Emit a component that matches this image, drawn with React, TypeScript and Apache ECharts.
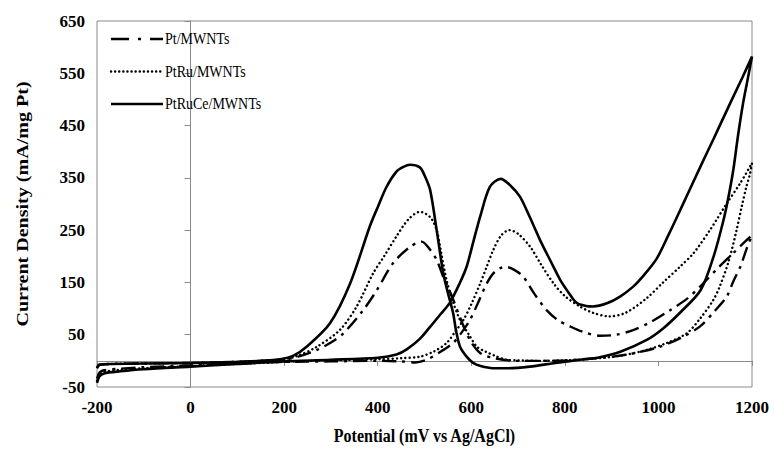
import React, { useEffect, useRef } from "react";
import * as echarts from "echarts";

const seriesNames = ["Pt/MWNTs", "PtRu/MWNTs", "PtRuCe/MWNTs"];
const xTicks = [-200, 1200, 200];
const yTicks = [-50, 650, 100];
const xTitle = "Potential (mV vs Ag/AgCl)";
const yTitle = "Current Density (mA/mg Pt)";

// Pt/MWNTs: forward scan then reverse scan, [potential, current]
const ptForward = [
  [-200, -34], [-195, -23], [-185, -18], [-150, -15], [-100, -12], [0, -9], [100, -5], [200, -2],
  [300, -1], [400, 0], [450, -1], [480, -3], [504, 2], [530, 15], [561, 34], [580, 55], [597, 78],
  [615, 112], [633, 148], [650, 170], [672, 180], [690, 175], [711, 161], [735, 128], [761, 97],
  [785, 78], [811, 66], [840, 55], [875, 48], [910, 50], [946, 59], [985, 75], [1025, 97],
  [1060, 118], [1089, 142], [1130, 180], [1160, 206], [1185, 228], [1200, 240],
];
const ptReverse = [
  [1200, 240], [1190, 218], [1175, 180], [1160, 152], [1146, 123], [1120, 95], [1089, 66],
  [1050, 45], [1003, 27], [950, 15], [903, 8], [850, 4], [800, 1], [750, 0], [700, 0], [650, 5],
  [619, 15], [597, 40], [575, 85], [561, 118], [547, 148], [540, 161], [526, 193], [510, 215],
  [494, 228], [469, 218], [433, 187], [398, 135], [369, 97], [327, 53], [300, 35], [270, 21],
  [230, 8], [200, 2], [150, 0], [100, -2], [0, -4], [-100, -5], [-170, -6], [-195, -8], [-200, -14],
];

// PtRu/MWNTs
const ptruForward = [
  [-200, -38], [-195, -26], [-185, -21], [-150, -17], [-100, -14], [0, -10], [100, -6], [200, -2],
  [300, 1], [400, 3], [450, 5], [490, 8], [520, 18], [547, 34], [565, 55], [583, 78], [600, 108],
  [619, 148], [633, 180], [647, 212], [664, 240], [681, 250], [700, 243], [726, 218], [750, 183],
  [776, 148], [800, 124], [832, 104], [860, 92], [895, 85], [930, 92], [975, 120], [1010, 150],
  [1046, 180], [1075, 206], [1110, 250], [1146, 301], [1175, 340], [1200, 378],
];
const ptruReverse = [
  [1200, 378], [1195, 355], [1188, 333], [1178, 295], [1167, 250], [1150, 190], [1130, 140],
  [1117, 116], [1090, 82], [1061, 53], [1020, 35], [975, 21], [920, 10], [860, 4], [800, 1],
  [740, 0], [700, 1], [676, 2], [650, 10], [630, 18], [612, 27], [595, 50], [576, 78], [560, 115],
  [547, 155], [535, 210], [526, 250], [512, 275], [490, 285], [465, 270], [440, 238], [415, 202],
  [390, 167], [355, 104], [319, 59], [270, 27], [230, 10], [200, 3], [150, 0], [100, -2], [0, -4],
  [-100, -5], [-170, -6], [-195, -8], [-200, -14],
];

// PtRuCe/MWNTs
const ptruceForward = [
  [-200, -42], [-195, -30], [-185, -24], [-150, -20], [-100, -16], [0, -11], [100, -6], [200, -1],
  [300, 2], [400, 6], [440, 12], [462, 22], [490, 42], [512, 65], [535, 90], [554, 111], [575, 148],
  [590, 180], [605, 230], [619, 276], [640, 333], [663, 348], [684, 335], [704, 314], [725, 275],
  [747, 231], [770, 190], [790, 155], [810, 128], [825, 111], [845, 105], [860, 104], [890, 110],
  [918, 123], [946, 142], [970, 165], [996, 195], [1020, 238], [1050, 295], [1090, 372],
  [1117, 423], [1153, 492], [1180, 543], [1200, 582],
];
const ptruceReverse = [
  [1200, 582], [1190, 535], [1181, 493], [1170, 430], [1160, 365], [1150, 315], [1139, 269],
  [1118, 200], [1090, 135], [1046, 92], [1010, 62], [975, 40], [920, 18], [870, 6], [832, 2],
  [780, -4], [725, -11], [680, -14], [646, -14], [620, -10], [604, -4], [590, 8], [576, 27],
  [568, 55], [561, 92], [550, 130], [540, 168], [526, 250], [512, 327], [500, 355], [490, 370],
  [469, 375], [455, 371], [440, 362], [419, 333], [400, 294], [383, 257], [341, 148], [298, 72],
  [248, 27], [220, 10], [191, 3], [150, 0], [100, -2], [0, -4], [-100, -5], [-170, -6], [-195, -7],
  [-200, -14],
];

const FONT = "'Liberation Serif', 'Times New Roman', serif";

export default function App() {
  const ref = useRef<HTMLDivElement>(null);
  useEffect(() => {
    if (!ref.current) return;
    const chart = echarts.init(ref.current, undefined, { renderer: "svg" });
    const curves = [
      ptForward.concat(ptReverse),
      ptruForward.concat(ptruReverse),
      ptruceForward.concat(ptruceReverse),
    ];
    const styles = [
      { width: 2.4, type: [14, 6, 3, 6], cap: "butt", legendDash: [18, 9, 3, 9] },
      { width: 2.4, type: [0.1, 4.2], cap: "round", legendDash: [0.1, 4] },
      { width: 2.6, type: "solid", cap: "butt", legendDash: null },
    ];
    const legendY = [39, 71.5, 104];
    const graphics: any[] = [];
    seriesNames.forEach((name, i) => {
      graphics.push({
        type: "line",
        shape: { x1: 111, y1: legendY[i], x2: 163, y2: legendY[i] },
        style: {
          stroke: "#000",
          lineWidth: styles[i].width,
          lineDash: styles[i].legendDash,
          lineCap: styles[i].cap,
        },
        z: 10,
      });
      graphics.push({
        type: "text",
        x: 165,
        y: legendY[i],
        scaleY: 1.15,
        style: {
          text: name,
          fontFamily: FONT,
          fontSize: 14,
          fill: "#000",
          verticalAlign: "middle",
          align: "left",
        },
        z: 10,
      });
    });
    graphics.push({
      type: "text",
      x: 424.5,
      y: 436,
      scaleY: 1.15,
      style: {
        text: xTitle,
        fontFamily: FONT,
        fontSize: 16,
        fontWeight: "bold",
        fill: "#000",
        align: "center",
        verticalAlign: "middle",
      },
    });
    graphics.push({
      type: "text",
      x: 22,
      y: 204,
      rotation: Math.PI / 2,
      scaleX: 1.18,
      style: {
        text: yTitle,
        fontFamily: FONT,
        fontSize: 17,
        fontWeight: "bold",
        fill: "#000",
        align: "center",
        verticalAlign: "middle",
      },
    });
    chart.setOption({
      animation: false,
      backgroundColor: "#fff",
      grid: {
        left: 97, right: 22, top: 21, bottom: 63,
        show: true, borderColor: "#8a8a8a", borderWidth: 1,
      },
      graphic: graphics,
      xAxis: {
        type: "value",
        min: xTicks[0], max: xTicks[1], interval: xTicks[2],
        axisLine: { show: true, lineStyle: { color: "#8a8a8a", width: 1 } },
        axisTick: { show: true, length: 5, lineStyle: { color: "#8a8a8a" } },
        splitLine: { show: false },
        axisLabel: {
          fontFamily: FONT, fontSize: 17, fontWeight: "bold", color: "#000", margin: 12,
          formatter: (v: number) => String(v),
        },
      },
      yAxis: {
        type: "value",
        min: yTicks[0], max: yTicks[1], interval: yTicks[2],
        axisLine: { show: true, lineStyle: { color: "#8a8a8a", width: 1 } },
        axisTick: { show: true, length: 6, lineStyle: { color: "#8a8a8a" } },
        splitLine: { show: false },
        axisLabel: {
          fontFamily: FONT, fontSize: 17, fontWeight: "bold", color: "#000", margin: 12,
          formatter: (v: number) => String(v),
        },
      },
      series: seriesNames.map((name, i) => ({
        name,
        type: "line",
        data: curves[i],
        symbol: "none",
        showSymbol: false,
        smooth: 0.3,
        z: 3 - i,
        lineStyle: { color: "#000", width: styles[i].width, type: styles[i].type, cap: styles[i].cap },
        itemStyle: { color: "#000" },
      })),
    });
    return () => chart.dispose();
  }, []);
  return (
    <div
      ref={ref}
      style={{ position: "fixed", left: 0, top: 0, width: 774, height: 450, background: "#fff" }}
    />
  );
}
